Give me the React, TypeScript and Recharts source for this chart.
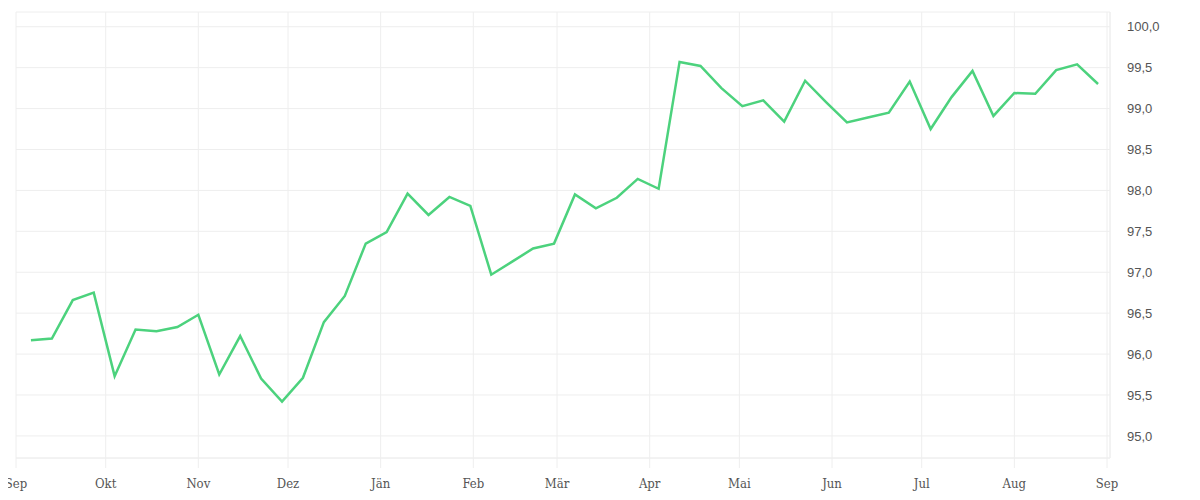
import { LineChart, Line, XAxis, YAxis, CartesianGrid } from 'recharts';

// weekly observations
const dates = [
  '2022-09-06', '2022-09-13', '2022-09-20', '2022-09-27',
  '2022-10-04', '2022-10-11', '2022-10-18', '2022-10-25',
  '2022-11-01', '2022-11-08', '2022-11-15', '2022-11-22', '2022-11-29',
  '2022-12-06', '2022-12-13', '2022-12-20', '2022-12-27',
  '2023-01-03', '2023-01-10', '2023-01-17', '2023-01-24', '2023-01-31',
  '2023-02-07', '2023-02-14', '2023-02-21', '2023-02-28',
  '2023-03-07', '2023-03-14', '2023-03-21', '2023-03-28',
  '2023-04-04', '2023-04-11', '2023-04-18', '2023-04-25',
  '2023-05-02', '2023-05-09', '2023-05-16', '2023-05-23', '2023-05-30',
  '2023-06-06', '2023-06-13', '2023-06-20', '2023-06-27',
  '2023-07-04', '2023-07-11', '2023-07-18', '2023-07-25',
  '2023-08-01', '2023-08-08', '2023-08-15', '2023-08-22', '2023-08-29',
];

const values = [
  96.17, 96.19, 96.66, 96.75,
  95.73, 96.30, 96.28, 96.33,
  96.48, 95.75, 96.22, 95.70, 95.42,
  95.71, 96.39, 96.71, 97.35,
  97.49, 97.96, 97.70, 97.92, 97.81,
  96.97, 97.13, 97.29, 97.35,
  97.95, 97.78, 97.91, 98.14,
  98.02, 99.57, 99.52, 99.25,
  99.03, 99.10, 98.84, 99.34, 99.08,
  98.83, 98.89, 98.95, 99.33,
  98.75, 99.14, 99.46, 98.91,
  99.19, 99.18, 99.47, 99.54, 99.30,
];

const monthTicks = [
  '2022-09-01', '2022-10-01', '2022-11-01', '2022-12-01',
  '2023-01-01', '2023-02-01', '2023-03-01', '2023-04-01',
  '2023-05-01', '2023-06-01', '2023-07-01', '2023-08-01', '2023-09-01',
];
const monthLabels = ['Sep', 'Okt', 'Nov', 'Dez', 'Jän', 'Feb', 'Mär', 'Apr', 'Mai', 'Jun', 'Jul', 'Aug', 'Sep'];

const yTicks = [95, 95.5, 96, 96.5, 97, 97.5, 98, 98.5, 99, 99.5, 100];

const toTime = (d: string) => Date.parse(d + 'T00:00:00Z');
const DAY = 86400000;

const chartData = dates.map((d, i) => ({ t: toTime(d), value: values[i] }));
const tickTimes = monthTicks.map(toTime);

const formatMonth = (t: number) => {
  const idx = tickTimes.indexOf(t);
  return idx >= 0 ? monthLabels[idx] : '';
};

const formatValue = (v: number) => v.toFixed(1).replace('.', ',');

export default function App() {
  // pull the chart over the body margin so it covers the whole window
  return (
    <div style={{ width: 1200, height: 500, margin: '-8px 0 0 -8px' }}>
      <LineChart
        width={1200}
        height={500}
        data={chartData}
        margin={{ top: 12, right: 0, left: 16, bottom: 0 }}
      >
        <CartesianGrid stroke="#eeeeee" />
        <XAxis
          dataKey="t"
          type="number"
          scale="time"
          domain={[tickTimes[0], tickTimes[tickTimes.length - 1] + DAY]}
          ticks={tickTimes}
          interval={0}
          tickFormatter={formatMonth}
          height={42}
          stroke="#eeeeee"
          tickSize={10}
          tickMargin={11}
          tick={{ fill: '#555555', fontSize: 13, fontFamily: 'DejaVu Serif Condensed, DejaVu Serif' }}
          allowDataOverflow
        />
        <YAxis
          orientation="right"
          width={90}
          domain={[94.73, 100.18]}
          ticks={yTicks}
          tickFormatter={formatValue}
          stroke="#eeeeee"
          tickLine={false}
          tickSize={0}
          tickMargin={17}
          tick={{ fill: '#555555', fontSize: 13, fontFamily: 'Liberation Sans' }}
          allowDataOverflow
        />
        <Line
          type="linear"
          dataKey="value"
          stroke="#4cd27d"
          strokeWidth={2.5}
          dot={false}
          isAnimationActive={false}
        />
      </LineChart>
    </div>
  );
}
